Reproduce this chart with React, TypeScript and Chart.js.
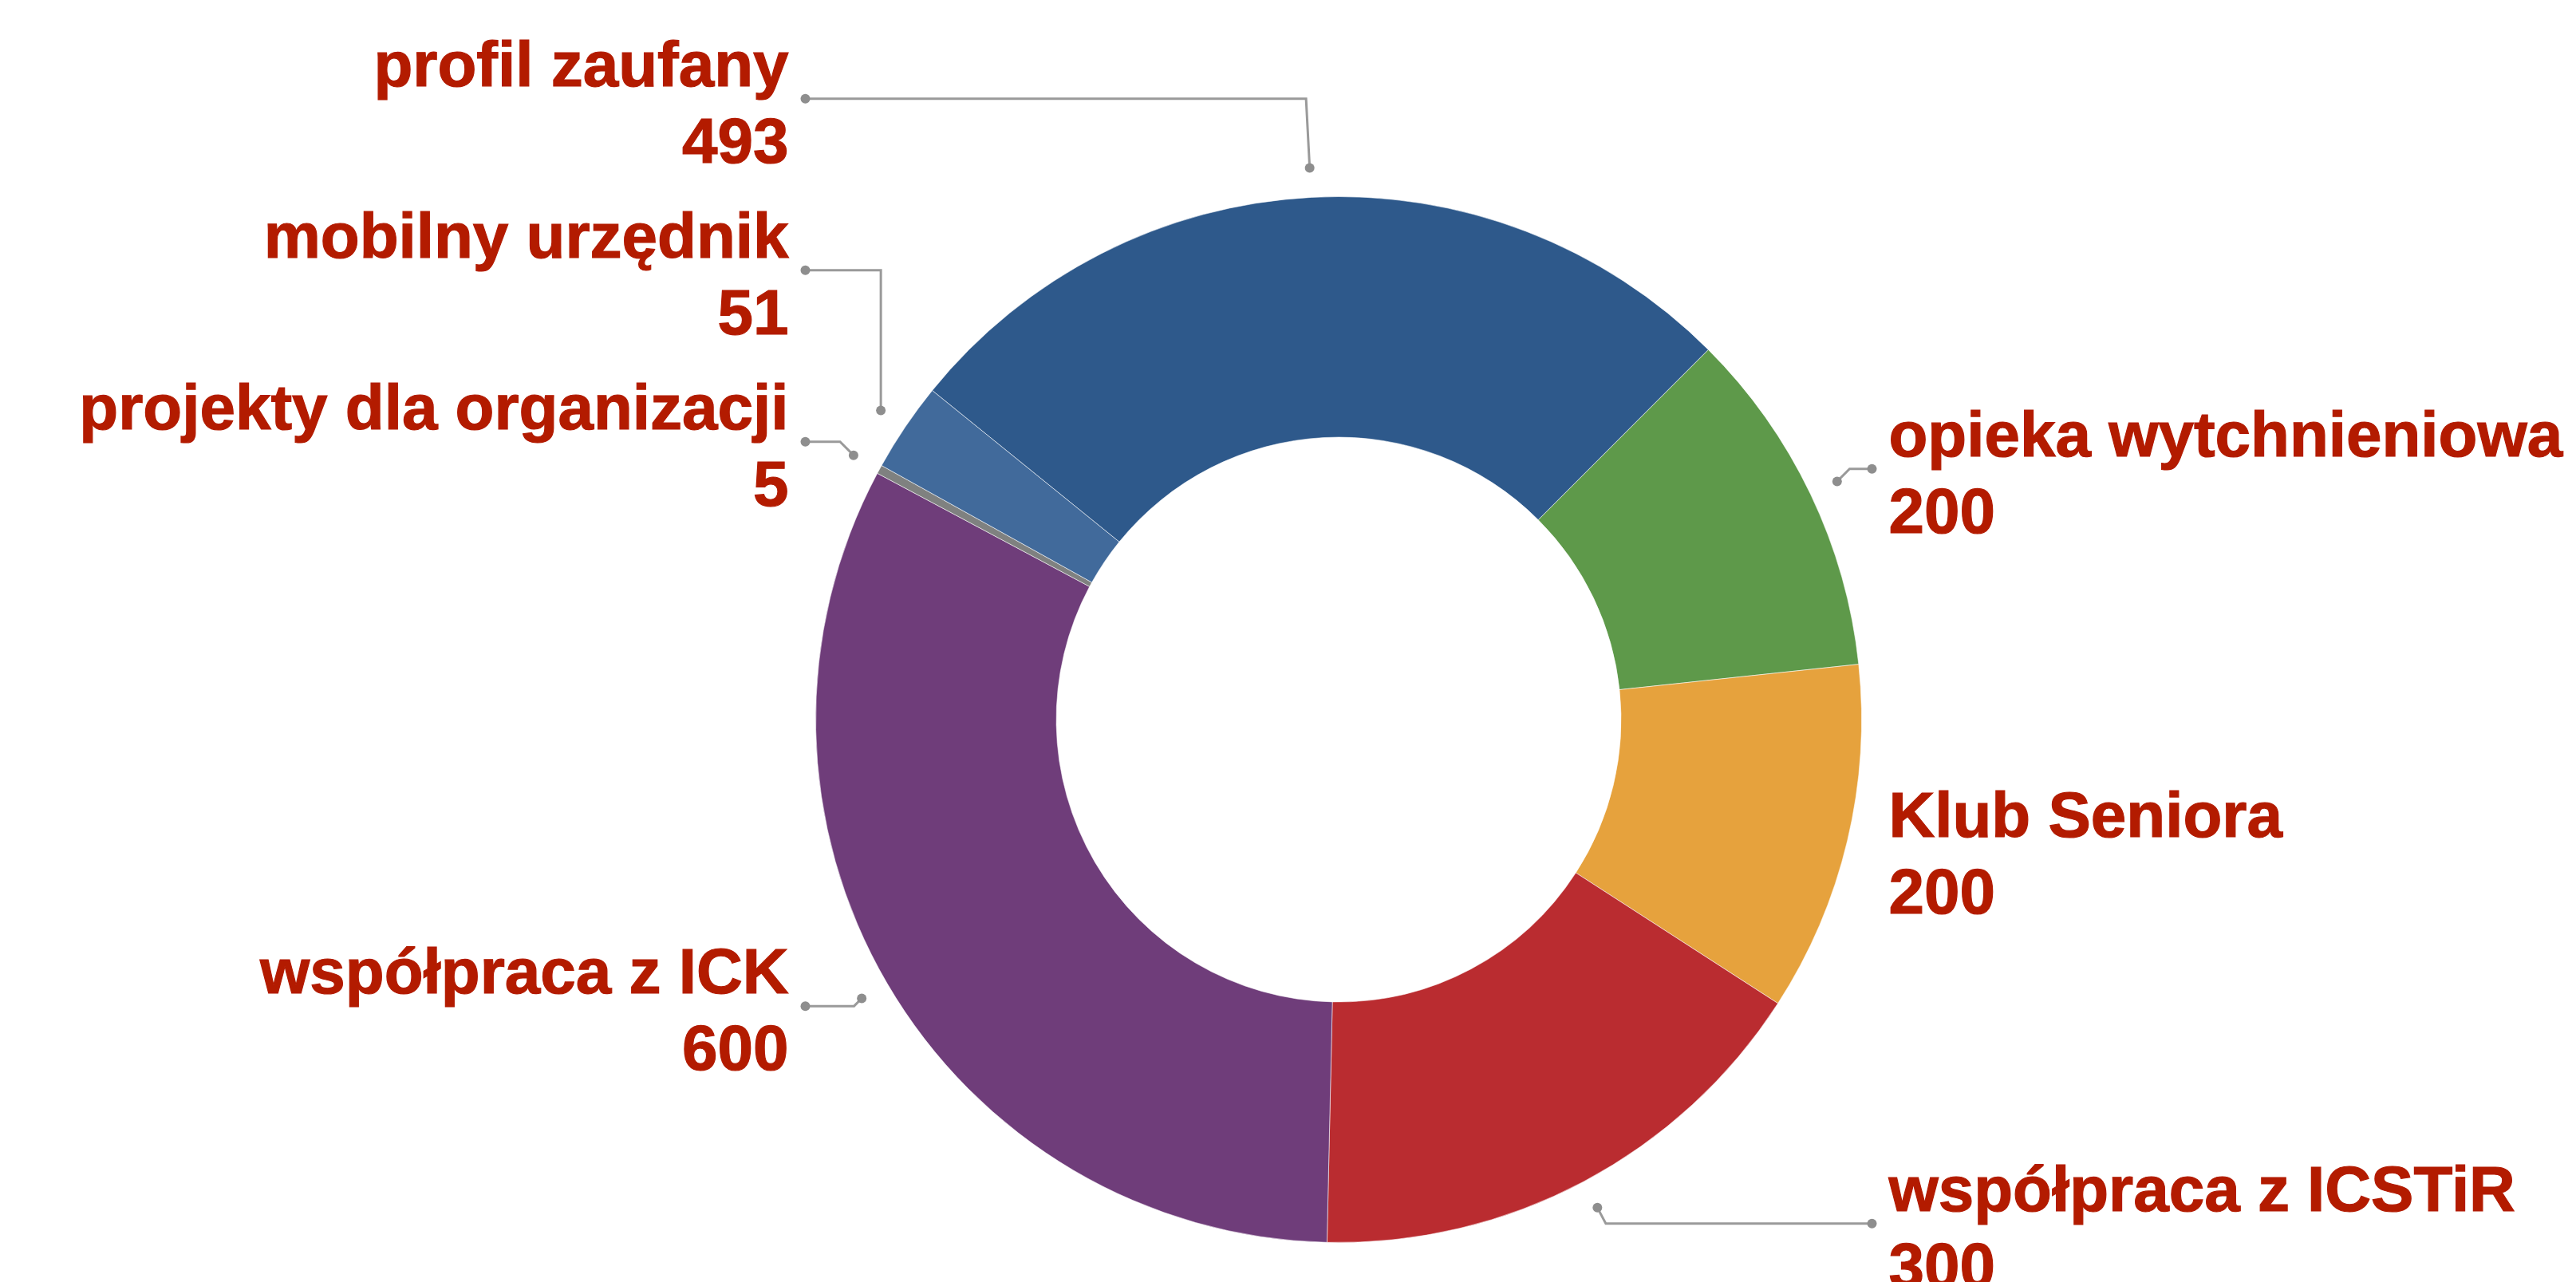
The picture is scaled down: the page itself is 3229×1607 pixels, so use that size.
import React, { useEffect, useRef } from "react";
import { Chart, registerables } from "chart.js";

Chart.register(...registerables);

const categories = [
  "profil zaufany",
  "opieka wytchnieniowa",
  "Klub Seniora",
  "współpraca z ICSTiR",
  "współpraca z ICK",
  "projekty dla organizacji",
  "mobilny urzędnik",
];
const values = [493, 200, 200, 300, 600, 5, 51];
const colors = ["#2E598B", "#5E994A", "#E6A23D", "#BA2C30", "#6F3D7A", "#7F8180", "#416A9B"];

const W = 3229;
const H = 1607;
const FONT = 'bold 80px "Liberation Sans", Arial, Helvetica, sans-serif';
const TEXT_COLOR = "#b31b00";
const LINE_COLOR = "#9a9a9a";
const DOT_COLOR = "#8e8e8e";

const calloutPlugin = {
  id: "calloutLabels",
  afterDraw(chart: any) {
    const ctx = chart.ctx as CanvasRenderingContext2D;
    const meta = chart.getDatasetMeta(0);
    const items = meta.data.map((arc: any, i: number) => {
      const p = arc.getProps(["x", "y", "startAngle", "endAngle", "outerRadius"], true);
      const mid = (p.startAngle + p.endAngle) / 2;
      const cos = Math.cos(mid);
      const sin = Math.sin(mid);
      const right = cos >= 0;
      const ax = p.x + cos * (p.outerRadius + 37);
      const ay = p.y + sin * (p.outerRadius + 37);
      const ly = p.y - 4 + sin * (p.outerRadius + 64);
      return { i, cx: p.x, cy: p.y, R: p.outerRadius, cos, sin, right, ax, ay, ly };
    });
    const S = 215;
    for (const side of [true, false]) {
      const g = items.filter((it: any) => it.right === side).sort((a: any, b: any) => a.ly - b.ly);
      for (let k = g.length - 2; k >= 0; k--) {
        if (g[k].ly > g[k + 1].ly - S) g[k].ly = g[k + 1].ly - S;
      }
    }
    ctx.save();
    items.forEach((it: any) => {
      const dir = it.right ? 1 : -1;
      const ex = it.cx + dir * (it.R + 13);
      const tx = ex + dir * 21;
      const hidden = it.right ? it.ax > ex - 2 : it.ax < ex + 2;
      if (!hidden) {
        const dy = Math.abs(it.ly - it.ay);
        let off = dy;
        if (Math.abs(it.sin) > 1e-6) {
          const t = (it.ly - it.cy) / it.sin;
          if (t > 0) {
            const radialOff = (it.cx + it.cos * t - it.ax) * dir;
            off = Math.min(dy, Math.max(0, radialOff));
          }
        }
        let crook = it.ax + dir * off;
        if ((crook - ex) * dir > 0) crook = it.ax;
        ctx.strokeStyle = LINE_COLOR;
        ctx.lineWidth = 3;
        ctx.lineJoin = "miter";
        ctx.beginPath();
        ctx.moveTo(ex, it.ly);
        ctx.lineTo(crook, it.ly);
        ctx.lineTo(it.ax, it.ay);
        ctx.stroke();
        ctx.fillStyle = DOT_COLOR;
        ctx.beginPath();
        ctx.arc(ex, it.ly, 6, 0, Math.PI * 2);
        ctx.fill();
        ctx.beginPath();
        ctx.arc(it.ax, it.ay, 6, 0, Math.PI * 2);
        ctx.fill();
      }
      ctx.font = FONT;
      ctx.fillStyle = TEXT_COLOR;
      ctx.strokeStyle = TEXT_COLOR;
      ctx.lineWidth = 1.2;
      ctx.textAlign = it.right ? "left" : "right";
      ctx.textBaseline = "alphabetic";
      const name = categories[it.i];
      const val = String(values[it.i]);
      ctx.fillText(name, tx, it.ly - 16);
      ctx.strokeText(name, tx, it.ly - 16);
      ctx.fillText(val, tx, it.ly + 80);
      ctx.strokeText(val, tx, it.ly + 80);
    });
    ctx.restore();
  },
};

export default function App() {
  const ref = useRef<HTMLCanvasElement>(null);
  useEffect(() => {
    const chart = new Chart(ref.current as HTMLCanvasElement, {
      type: "doughnut",
      data: {
        labels: categories,
        datasets: [
          {
            data: values,
            backgroundColor: colors,
            borderColor: "rgba(255,255,255,0.55)",
            borderWidth: 1,
          },
        ],
      },
      options: {
        responsive: false,
        animation: false,
        devicePixelRatio: 1,
        rotation: -51,
        cutout: "54%",
        layout: { padding: { top: 246, bottom: 49, left: 127, right: 0 } },
        plugins: { legend: { display: false }, tooltip: { enabled: false } },
      },
      plugins: [calloutPlugin],
    } as any);
    return () => chart.destroy();
  }, []);
  return (
    <div style={{ position: "fixed", left: 0, top: 0, width: W, height: H, background: "#fff" }}>
      <canvas ref={ref} width={W} height={H} style={{ display: "block", width: W, height: H }} />
    </div>
  );
}
